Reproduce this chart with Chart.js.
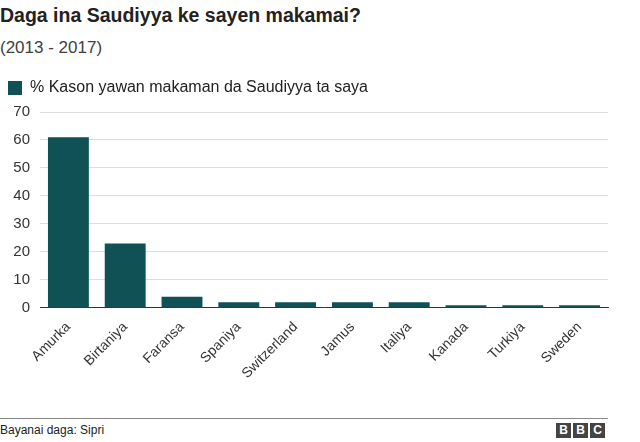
<!DOCTYPE html>
<html><head><meta charset="utf-8">
<script src="https://cdn.jsdelivr.net/npm/chart.js@4"></script>
<style>
body{margin:0;width:640px;height:442px;background:#fff;font-family:"Liberation Sans",Arial,sans-serif;position:relative;overflow:hidden}
#t{position:absolute;left:0;top:4px;font-size:19.5px;font-weight:bold;color:#222}
#s{position:absolute;left:0;top:38px;font-size:17px;color:#404040}
#c{position:absolute;left:0;top:72px;width:620px;height:340px}
#f{position:absolute;left:0;top:418px;width:608px;border-top:1px solid #888}
#src{position:absolute;left:0;top:423px;font-size:12px;color:#222}
#bbc{position:absolute;left:556px;top:423px;display:flex;gap:2px}
#bbc span{background:#444;color:#fff;font-weight:bold;font-size:12px;width:15px;height:15px;line-height:15px;text-align:center}
</style></head><body>
<div id="t">Daga ina Saudiyya ke sayen makamai?</div>
<div id="s">(2013 - 2017)</div>
<div id="c"><canvas id="cv"></canvas></div>
<div id="f"></div>
<div id="src">Bayanai daga: Sipri</div>
<div id="bbc"><span>B</span><span>B</span><span>C</span></div>
<script>
const categories=["Amurka","Birtaniya","Faransa","Spaniya","Switzerland","Jamus","Italiya","Kanada","Turkiya","Sweden"];
const values=[61,23,4,2,2,2,2,1,1,1];
const seriesName="% Kason yawan makaman da Saudiyya ta saya";
new Chart(document.getElementById('cv'),{type:'bar',
data:{labels:categories,datasets:[{label:seriesName,data:values,backgroundColor:'#0f5155',barPercentage:0.72,categoryPercentage:1}]},
options:{responsive:true,maintainAspectRatio:false,animation:false,
layout:{padding:{left:0,right:12,top:0,bottom:27}},
plugins:{legend:{align:'start',labels:{boxWidth:14,boxHeight:14,color:'#222',font:{size:16,family:'Liberation Sans'},padding:8}},tooltip:{enabled:false}},
scales:{x:{grid:{display:false},border:{color:'#333'},ticks:{maxRotation:45,minRotation:45,color:'#333',font:{size:14,family:'Liberation Sans'}}},
y:{min:0,max:70,afterFit:s=>{s.width=40},ticks:{stepSize:10,padding:10,color:'#333',font:{size:15,family:'Liberation Sans'}},grid:{color:'#ddd',drawTicks:false},border:{display:false}}}},
plugins:[{id:'lg',beforeInit(c){const f=c.legend.fit;c.legend.fit=function(){f.call(this);this.height+=6;};}}]});
</script></body></html>
